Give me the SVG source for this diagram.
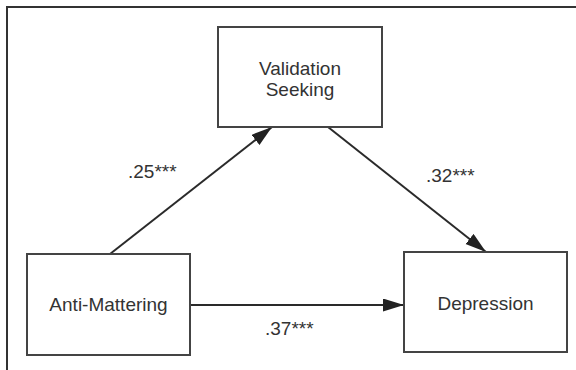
<svg xmlns="http://www.w3.org/2000/svg" width="576" height="370" viewBox="0 0 576 370">
<style>
.box{fill:#fff;stroke:#444;stroke-width:2}
.frame{fill:none;stroke:#333;stroke-width:2}
.t{font-family:"Liberation Sans",Arial,sans-serif;font-size:19px;fill:#333}
.c{fill:none;stroke:#2a2a2a;stroke-width:2}
</style>
<defs>
<marker id="ah" markerUnits="userSpaceOnUse" markerWidth="22" markerHeight="14" refX="21" refY="6.5" orient="auto">
<path d="M0,0 L21,6.5 L0,13 z" fill="#222"/>
</marker>
</defs>
<rect width="576" height="370" fill="#fff"/>
<path class="frame" d="M7,370 L7,7 L576,7"/>
<g id="connectors">
<line class="c" x1="110" y1="254" x2="272" y2="127" marker-end="url(#ah)"/>
<line class="c" x1="328" y1="127" x2="486" y2="252" marker-end="url(#ah)"/>
<line class="c" x1="190" y1="305" x2="404" y2="305" marker-end="url(#ah)"/>
<text class="t" x="128" y="178">.25***</text>
<text class="t" x="426" y="182">.32***</text>
<text class="t" x="265" y="335">.37***</text>
</g>
<g id="validation">
<rect class="box" x="218" y="27" width="164" height="100"/>
<text class="t" x="300" y="75" text-anchor="middle">Validation</text>
<text class="t" x="300" y="96" text-anchor="middle">Seeking</text>
</g>
<g id="antimattering">
<rect class="box" x="27" y="254" width="163" height="101"/>
<text class="t" x="108.5" y="311" text-anchor="middle">Anti-Mattering</text>
</g>
<g id="depression">
<rect class="box" x="404" y="252" width="163" height="100"/>
<text class="t" x="485.5" y="310" text-anchor="middle">Depression</text>
</g>
</svg>
